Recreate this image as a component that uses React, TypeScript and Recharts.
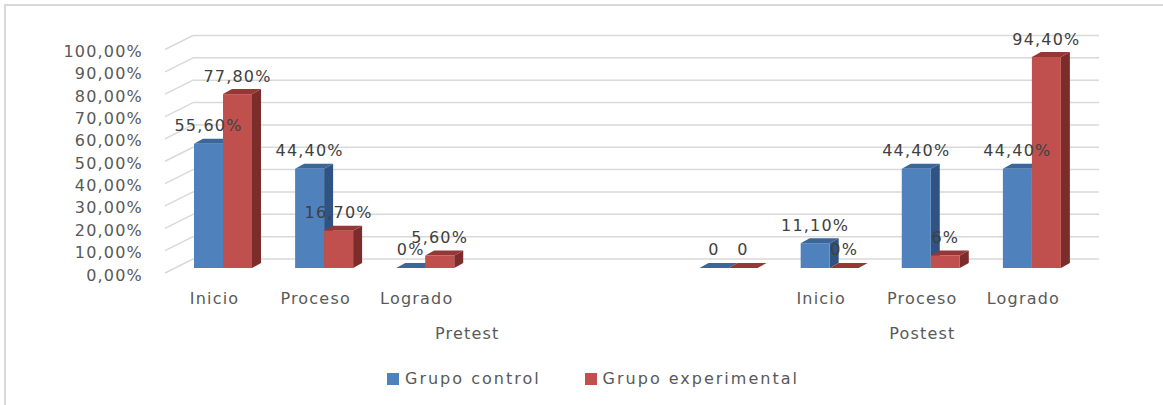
import React from 'react';
import { BarChart, Bar, XAxis, YAxis, CartesianGrid, Legend, LabelList } from 'recharts';

const categories = ['Inicio', 'Proceso', 'Logrado', '', '', '', 'Inicio', 'Proceso', 'Logrado'];
const controlValues = [55.6, 44.4, 0, null, null, 0, 11.1, 44.4, 44.4];
const experimentalValues = [77.8, 16.7, 5.6, null, null, 0, 0, 5.6, 94.4];
const controlLabels = ['55,60%', '44,40%', '0%', null, null, '0', '11,10%', '44,40%', '44,40%'];
const experimentalLabels = ['77,80%', '16,70%', '5,60%', null, null, '0', '0%', '6%', '94,40%'];
const yTicks = [0, 10, 20, 30, 40, 50, 60, 70, 80, 90, 100];
const groups = [
  { name: 'Pretest', start: 0, end: 5 },
  { name: 'Postest', start: 6, end: 8 },
];
const seriesNames = ['Grupo control', 'Grupo experimental'];

const data = categories.map((cat, i) => ({
  id: `c${i}`,
  cat,
  control: controlValues[i],
  experimental: experimentalValues[i],
  controlLabel: controlLabels[i],
  experimentalLabel: experimentalLabels[i],
}));

const W = 1163;
const H = 405;
const PLOT_LEFT = 172;
const PLOT_RIGHT = 1082;
const BAND = (PLOT_RIGHT - PLOT_LEFT) / categories.length;
const FONT = '"DejaVu Sans", sans-serif';
const TEXT = '#595959';
const GRID = '#d9d9d9';

const colors = {
  control: { front: '#4f81bd', side: '#2f5382', top: '#3b6699' },
  experimental: { front: '#c0504d', side: '#7c2d2b', top: '#943735' },
};

const make3DBar = (c: { front: string; side: string; top: string }) => (props: any) => {
  const { x, y, width, height } = props;
  if (x == null || y == null) return <g />;
  const dx = 9;
  const dy = -5;
  const h = Math.max(height || 0, 0);
  return (
    <g>
      <polygon
        points={`${x + width},${y} ${x + width + dx},${y + dy} ${x + width + dx},${y + h + dy} ${x + width},${y + h}`}
        fill={c.side}
      />
      <polygon
        points={`${x},${y} ${x + dx},${y + dy} ${x + width + dx},${y + dy} ${x + width},${y}`}
        fill={c.top}
      />
      {h > 0 && <rect x={x} y={y} width={width} height={h} fill={c.front} />}
    </g>
  );
};

const gridLine = (props: any) => {
  const { y1, x2 } = props;
  const left = 165;
  const back = 193;
  return (
    <g key={`g-${y1}`}>
      <line x1={left} y1={y1 + 5} x2={back} y2={y1 - 9} stroke={GRID} strokeWidth={1.5} />
      <line x1={back} y1={y1 - 9} x2={x2 + 17} y2={y1 - 9} stroke={GRID} strokeWidth={1.5} />
    </g>
  );
};

const YTick = (props: any) => {
  const { y, payload } = props;
  return (
    <text
      x={143}
      y={y + 7}
      textAnchor="end"
      dominantBaseline="central"
      fill={TEXT}
      fontSize={16}
      fontFamily={FONT}
      letterSpacing={1.2}
    >
      {`${payload.value},00%`}
    </text>
  );
};

const XTick = (props: any) => {
  const { x, y, index } = props;
  const group = groups.find((g) => g.start === index);
  return (
    <g>
      <text
        x={x - 8}
        y={y + 22}
        textAnchor="middle"
        dominantBaseline="central"
        fill={TEXT}
        fontSize={16}
        fontFamily={FONT}
        letterSpacing={1.2}
      >
        {categories[index]}
      </text>
      {group && (
        <text
          x={x - 8 + ((group.end - group.start) / 2) * BAND}
          y={y + 57}
          textAnchor="middle"
          dominantBaseline="central"
          fill={TEXT}
          fontSize={16}
          fontFamily={FONT}
          letterSpacing={1.2}
        >
          {group.name}
        </text>
      )}
    </g>
  );
};

const BarLabel = (props: any) => {
  const { x, y, width, value } = props;
  if (value == null || x == null) return null;
  return (
    <text
      x={x + width / 2}
      y={y - 18}
      textAnchor="middle"
      dominantBaseline="central"
      fill="#404040"
      fontSize={16}
      fontFamily={FONT}
      letterSpacing={1.2}
    >
      {value}
    </text>
  );
};

const LegendContent = () => (
  <div style={{ display: 'flex', alignItems: 'center', fontFamily: FONT, fontSize: 16, color: TEXT, letterSpacing: 2 }}>
    {seriesNames.map((name, i) => (
      <div key={name} style={{ display: 'flex', alignItems: 'center', marginRight: i === 0 ? 44 : 0 }}>
        <span
          style={{
            display: 'inline-block',
            width: 12,
            height: 12,
            background: i === 0 ? colors.control.front : colors.experimental.front,
            marginRight: 6,
          }}
        />
        <span>{name}</span>
      </div>
    ))}
  </div>
);

export default function App() {
  return (
    <div style={{ position: 'absolute', left: 0, top: 0, width: W, height: H, background: '#fff' }}>
      <div
        style={{
          position: 'absolute',
          left: 4,
          top: 4,
          width: W,
          height: H,
          borderTop: `2px solid ${GRID}`,
          borderLeft: `2px solid ${GRID}`,
        }}
      />
      <BarChart
        width={W}
        height={H}
        data={data}
        margin={{ top: 44.5, right: W - PLOT_RIGHT, left: 0, bottom: 57 }}
        barSize={29}
        barGap={0}
      >
        <CartesianGrid horizontal={gridLine} vertical={false} />
        <XAxis
          xAxisId="main"
          dataKey="id"
          height={80}
          axisLine={false}
          tickLine={false}
          interval={0}
          tick={<XTick />}
        />
        <XAxis xAxisId="labels" dataKey="id" height={0} hide />
        <YAxis
          width={PLOT_LEFT}
          domain={[0, 100]}
          ticks={yTicks}
          axisLine={false}
          tickLine={false}
          tick={<YTick />}
          interval={0}
        />
        <Bar xAxisId="main" dataKey="control" shape={make3DBar(colors.control)} isAnimationActive={false} />
        <Bar xAxisId="main" dataKey="experimental" shape={make3DBar(colors.experimental)} isAnimationActive={false} />
        <Bar xAxisId="labels" dataKey="control" fill="none" minPointSize={1} legendType="none" isAnimationActive={false}>
          <LabelList dataKey="controlLabel" content={<BarLabel />} />
        </Bar>
        <Bar xAxisId="labels" dataKey="experimental" fill="none" minPointSize={1} legendType="none" isAnimationActive={false}>
          <LabelList dataKey="experimentalLabel" content={<BarLabel />} />
        </Bar>
        <Legend
          verticalAlign="middle"
          align="center"
          content={<LegendContent />}
          wrapperStyle={{ position: 'absolute', left: 387, top: 369, width: 'auto', height: 20 }}
        />
      </BarChart>
    </div>
  );
}
